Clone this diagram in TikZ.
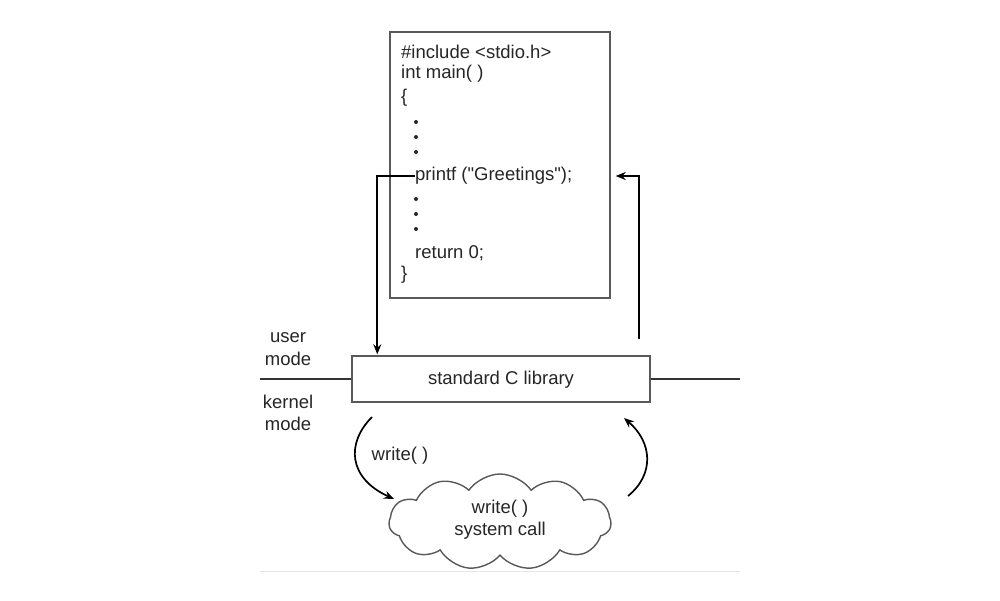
\documentclass[tikz,border=0pt]{standalone}
\usepackage{fontspec}
\setmainfont{Liberation Sans}[Ligatures=TeXOff]
\usetikzlibrary{arrows.meta,calc,shapes.symbols}
\begin{document}
\begin{tikzpicture}[x=1pt,y=-1pt,
  txt/.style={font=\fontsize{18.5}{21}\selectfont, inner sep=0pt, text=black!85},
  codeline/.style={txt, anchor=west},
  dotmark/.style={circle, fill=black!85, inner sep=0pt, minimum size=4pt},
  frame/.style={draw=black!65, line width=1.4pt},
  arr/.style={draw=black, line width=1.7pt, -{Stealth[length=10pt,width=8pt]}},
  sepline/.style={draw=black!80, line width=1.6pt}
]
\useasboundingbox (0,0) rectangle (1000,600);
\fill[white] (0,0) rectangle (1000,600);

% code box
\node[frame, minimum width=220pt, minimum height=266pt, inner sep=0pt] (code) at (500,165) {};
\node[codeline] (l1) at (401,52) {\#include <stdio.h>};
\node[codeline] (l2) at (401,74) {int main( )};
\node[codeline] (l3) at (401,98) {\{};
\node[dotmark] (d1) at (416,122) {};
\node[dotmark] (d2) at (416,137) {};
\node[dotmark] (d3) at (416,152) {};
\node[codeline] (printf) at (415,176) {printf ("Greetings");};
\node[dotmark] (d4) at (416,199) {};
\node[dotmark] (d5) at (416,214) {};
\node[dotmark] (d6) at (416,229) {};
\node[codeline] (ret) at (415,253) {return 0;};
\node[codeline] (l4) at (401,275) {\}};

% library box
\node[frame, minimum width=298pt, minimum height=46pt, inner sep=0pt] (lib) at (501,379) {};
\node[txt] (libtxt) at (501,380) {standard C library};

% mode separator
\coordinate (sepL) at (260,379);
\coordinate (sepR) at (740,379);
\draw[sepline] (sepL) -- (lib.west);
\draw[sepline] (lib.east) -- (sepR);

\node[txt] (user) at (288,338) {user};
\node[txt] (umode) at (288,359) {mode};
\node[txt] (kernel) at (288,402) {kernel};
\node[txt] (kmode) at (288,424) {mode};

% arrows between code and library
\draw[arr] (printf.west) -| ($(lib.north west)+(26,-1)$);
\coordinate (rs) at ($(lib.north east)+(-12,-16)$);
\draw[arr] (rs) |- ($(printf.west -| code.east)+(5,0)$);

% cloud
\node[cloud, cloud puffs=11, cloud puff arc=110, aspect=2.4, draw=black!65, line width=1.4pt,
      minimum width=222pt, minimum height=96pt, inner sep=0pt] (cloud) at (500,522) {};
\node[txt, align=center] (ctxt) at (500,520) {write( )\\[1pt]system call};

% curved arrows
\coordinate (c1s) at (372,417);
\coordinate (c1e) at (394,499);
\draw[arr] (c1s) .. controls (346,443) and (348,478) .. (c1e);
\node[txt] (wlab) at (400,456) {write( )};
\coordinate (c2s) at (628,496);
\coordinate (c2e) at (624,418);
\draw[arr] (c2s) .. controls (655,474) and (652,442) .. (c2e);

% faint baseline
\coordinate (bl) at (260,571);
\coordinate (br) at (740,571);
\draw[black!10, line width=1pt] (bl) -- (br);
\end{tikzpicture}
\end{document}
